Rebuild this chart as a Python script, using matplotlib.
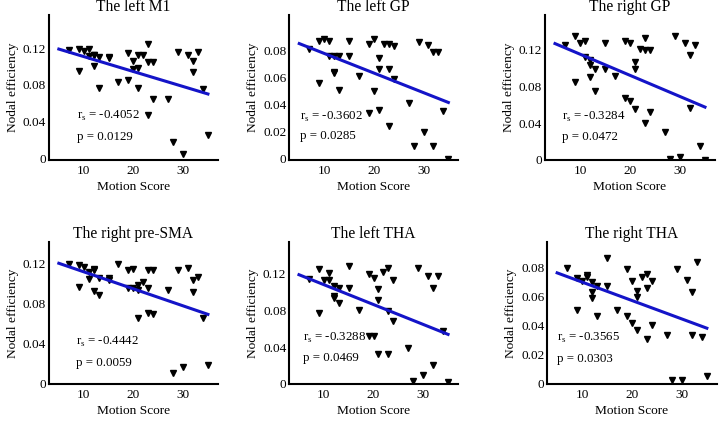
import matplotlib
matplotlib.use('Agg')
import matplotlib.pyplot as plt

plt.rcParams['font.family'] = ['Liberation Serif', 'DejaVu Serif']
plt.rcParams['mathtext.fontset'] = 'custom'
plt.rcParams['mathtext.rm'] = 'Liberation Serif'

# motion score of each subject (same for all panels)
motion = [7, 9, 9, 10, 11, 11, 12, 12, 12, 13, 13, 15, 15, 17, 19, 19, 20, 20, 21, 21, 21,
          22, 23, 23, 23, 24, 24, 27, 28, 29, 30, 31, 32, 32, 33, 34, 35]

titles = ['The left M1', 'The left GP', 'The right GP',
          'The right pre-SMA', 'The left THA', 'The right THA']

left_m1 = [0.1175, 0.119, 0.095, 0.117, 0.119, 0.111, 0.113, 0.101, 0.112, 0.110, 0.077,
           0.110, 0.109, 0.083, 0.115, 0.085, 0.106, 0.097, 0.113, 0.098, 0.076, 0.112,
           0.124, 0.105, 0.047, 0.105, 0.065, 0.064, 0.018, 0.116, 0.004, 0.113, 0.106,
           0.094, 0.116, 0.075, 0.025]
left_gp = [0.081, 0.087, 0.056, 0.0886, 0.0866, 0.076, 0.076, 0.064, 0.063, 0.0756, 0.051,
           0.087, 0.0756, 0.061, 0.085, 0.034, 0.0886, 0.050, 0.074, 0.0665, 0.036, 0.085,
           0.085, 0.066, 0.024, 0.083, 0.059, 0.041, 0.009, 0.086, 0.020, 0.084, 0.079,
           0.009, 0.079, 0.035, 0.0]
right_gp = [0.125, 0.135, 0.085, 0.128, 0.130, 0.112, 0.109, 0.104, 0.090, 0.099, 0.075,
            0.128, 0.0998, 0.092, 0.130, 0.068, 0.128, 0.064, 0.107, 0.0998, 0.056, 0.1207,
            0.133, 0.1197, 0.040, 0.1197, 0.052, 0.031, 0.001, 0.135, 0.003, 0.128, 0.114,
            0.057, 0.125, 0.015, 0.0]
right_presma = [0.119, 0.1185, 0.096, 0.116, 0.111, 0.104, 0.114, 0.113, 0.092, 0.105, 0.088,
                0.105, 0.103, 0.1195, 0.1135, 0.095, 0.114, 0.095, 0.098, 0.093, 0.066, 0.101,
                0.1135, 0.095, 0.071, 0.1135, 0.0695, 0.093, 0.0105, 0.1135, 0.0165, 0.115,
                0.103, 0.091, 0.106, 0.066, 0.0185]
left_tha = [0.1145, 0.1255, 0.0775, 0.1135, 0.1207, 0.1127, 0.107, 0.096, 0.094, 0.105, 0.088,
            0.128, 0.105, 0.081, 0.120, 0.052, 0.1156, 0.0527, 0.103, 0.0916, 0.0327, 0.1218,
            0.126, 0.080, 0.0327, 0.1135, 0.069, 0.0393, 0.0036, 0.126, 0.010, 0.118, 0.105,
            0.021, 0.118, 0.0575, 0.0018]
right_tha = [0.080, 0.0727, 0.051, 0.071, 0.075, 0.074, 0.070, 0.063, 0.059, 0.0675, 0.047,
             0.0865, 0.0675, 0.051, 0.079, 0.047, 0.071, 0.0418, 0.064, 0.060, 0.037, 0.074,
             0.0755, 0.0658, 0.031, 0.0708, 0.0405, 0.034, 0.0027, 0.079, 0.0027, 0.0715,
             0.0635, 0.034, 0.084, 0.0325, 0.0055]
values = [left_m1, left_gp, right_gp, right_presma, left_tha, right_tha]

# regression line end points
fit_x = [5, 35]
fit_y = [[0.119, 0.070], [0.085, 0.0415], [0.127, 0.0577],
         [0.120, 0.0692], [0.119, 0.054], [0.0765, 0.0384]]

r_s = ['-0.4052', '-0.3602', '-0.3284', '-0.4442', '-0.3288', '-0.3565']
p_val = ['0.0129', '0.0285', '0.0472', '0.0059', '0.0469', '0.0303']

yticks_big = [0, 0.04, 0.08, 0.12]
yticks_small = [0, 0.02, 0.04, 0.06, 0.08]
yticks = [yticks_big, yticks_small, yticks_big, yticks_big, yticks_big, yticks_small]
ylims = [(-0.002, 0.156), (-0.001, 0.106), (0, 0.158), (0, 0.1415), (0, 0.155), (0, 0.098)]

# axes rectangles (left, bottom, width, height) in figure fraction
rects = [(0.068, 0.620, 0.235, 0.344), (0.4024, 0.620, 0.235, 0.344), (0.758, 0.620, 0.2364, 0.344),
         (0.068, 0.088, 0.235, 0.338), (0.402, 0.088, 0.235, 0.338), (0.761, 0.088, 0.236, 0.338)]
text_pos = [(0.164, 0.303, 0.16), (0.063, 0.30, 0.166), (0.098, 0.30, 0.16),
            (0.16, 0.297, 0.15), (0.085, 0.325, 0.18), (0.056, 0.32, 0.176)]

fig = plt.figure(figsize=(7.19, 4.21), dpi=100)

for i in range(6):
    ax = fig.add_axes(rects[i])
    ax.plot(motion, values[i], linestyle='none', marker='v', markersize=5, color='black')
    ax.plot(fit_x, fit_y[i], color='#1414c8', linewidth=2.2)

    ax.set_xlim(3, 37)
    ax.set_ylim(*ylims[i])
    ax.set_xticks([10, 20, 30])
    ax.set_yticks(yticks[i])
    ax.set_yticklabels(['0' if t == 0 else '%g' % t for t in yticks[i]])
    ax.tick_params(labelsize=9.5, length=0)
    ax.tick_params(axis='x', pad=3.5)
    ax.tick_params(axis='y', pad=2)
    ax.spines['top'].set_visible(False)
    ax.spines['right'].set_visible(False)
    ax.spines['left'].set_linewidth(1.5)
    ax.spines['bottom'].set_linewidth(1.5)

    ax.set_title(titles[i], fontsize=11.2, pad=0)
    ax.set_xlabel('Motion Score', fontsize=9.6, labelpad=3)
    ax.set_ylabel('Nodal efficiency', fontsize=9.6, labelpad=3)

    tx, ry, py = text_pos[i]
    ax.text(tx, ry, r'r$_\mathrm{s}$ = ' + r_s[i], transform=ax.transAxes, fontsize=9.3, va='center')
    ax.text(tx, py, 'p = ' + p_val[i], transform=ax.transAxes, fontsize=9.3, va='center')

plt.savefig('out.png', dpi=100)
